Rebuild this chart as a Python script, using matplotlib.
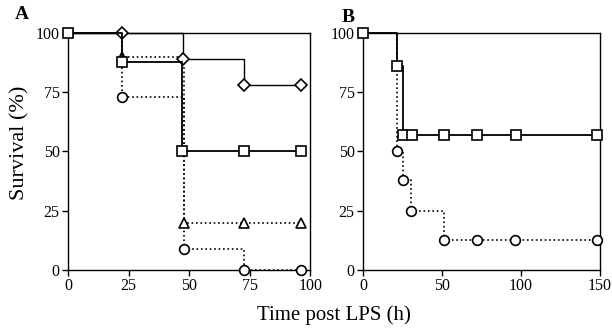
import matplotlib
matplotlib.use("Agg")
import matplotlib.pyplot as plt

plt.rcParams["font.family"] = ["Liberation Serif", "DejaVu Serif"]

# Panel A data (time in h, survival in %)
a_diamond_t = [0, 22.5, 47.5, 72.5, 96]
a_diamond_s = [100, 100, 89, 78, 78]
a_square_t = [0, 22.5, 47, 72.5, 96]
a_square_s = [100, 87.5, 50, 50, 50]
a_triangle_t = [0, 22.5, 48, 72.5, 96]
a_triangle_s = [100, 90, 20, 20, 20]
a_circle_t = [0, 22.5, 48, 72.5, 96]
a_circle_s = [100, 73, 9, 0, 0]

# Panel B data
b_square_t = [0, 21.5, 25.5, 31, 51.5, 72.5, 97, 148]
b_square_s = [100, 86, 57, 57, 57, 57, 57, 57]
b_circle_t = [0, 21.5, 25.5, 30.5, 51.5, 72.5, 96.5, 148]
b_circle_s = [100, 50, 38, 25, 12.5, 12.5, 12.5, 12.5]

a_xticks = [0, 25, 50, 75, 100]
b_xticks = [0, 50, 100, 150]
yticks = [0, 25, 50, 75, 100]


def step_series(ax, t, s, marker, ls, lw=1.0, ms=7, skip_first=True):
    ax.plot(t, s, drawstyle="steps-post", color="black", linestyle=ls,
            linewidth=lw, marker=marker, markersize=ms,
            markerfacecolor="white", markeredgecolor="black",
            markeredgewidth=1.2,
            markevery=list(range(1 if skip_first else 0, len(t))),
            clip_on=False, zorder=3)


def style_axes(ax, xticks, xmax):
    ax.set_xlim(0, xmax)
    ax.set_ylim(0, 100)
    ax.set_xticks(xticks)
    ax.set_yticks(yticks)
    ax.tick_params(direction="out", length=4, width=1, labelsize=11.5,
                   pad=2, top=False, right=False)
    for sp in ax.spines.values():
        sp.set_linewidth(1.0)


fig = plt.figure(figsize=(6.12, 3.32), dpi=100)
ax_a = fig.add_axes([0.111, 0.187, 0.396, 0.714])
ax_b = fig.add_axes([0.593, 0.187, 0.387, 0.714])

step_series(ax_a, a_circle_t, a_circle_s, "o", ":", 1.2)
step_series(ax_a, a_triangle_t, a_triangle_s, "^", ":", 1.2)
step_series(ax_a, a_diamond_t, a_diamond_s, "D", "-", 1.0, ms=6)
step_series(ax_a, a_square_t, a_square_s, "s", "-", 1.3, skip_first=False)
style_axes(ax_a, a_xticks, 100)

step_series(ax_b, b_circle_t, b_circle_s, "o", ":", 1.2)
step_series(ax_b, b_square_t, b_square_s, "s", "-", 1.3, skip_first=False)
style_axes(ax_b, b_xticks, 150)

fig.text(0.032, 0.57, "Survival (%)", ha="center", va="center",
         rotation=90, fontsize=16)
fig.text(0.545, 0.05, "Time post LPS (h)", ha="center", va="center",
         fontsize=15)
fig.text(0.036, 0.955, "A", ha="center", va="center", fontsize=14,
         fontweight="bold")
fig.text(0.569, 0.946, "B", ha="center", va="center", fontsize=14,
         fontweight="bold")

fig.savefig("out.png", dpi=100)
